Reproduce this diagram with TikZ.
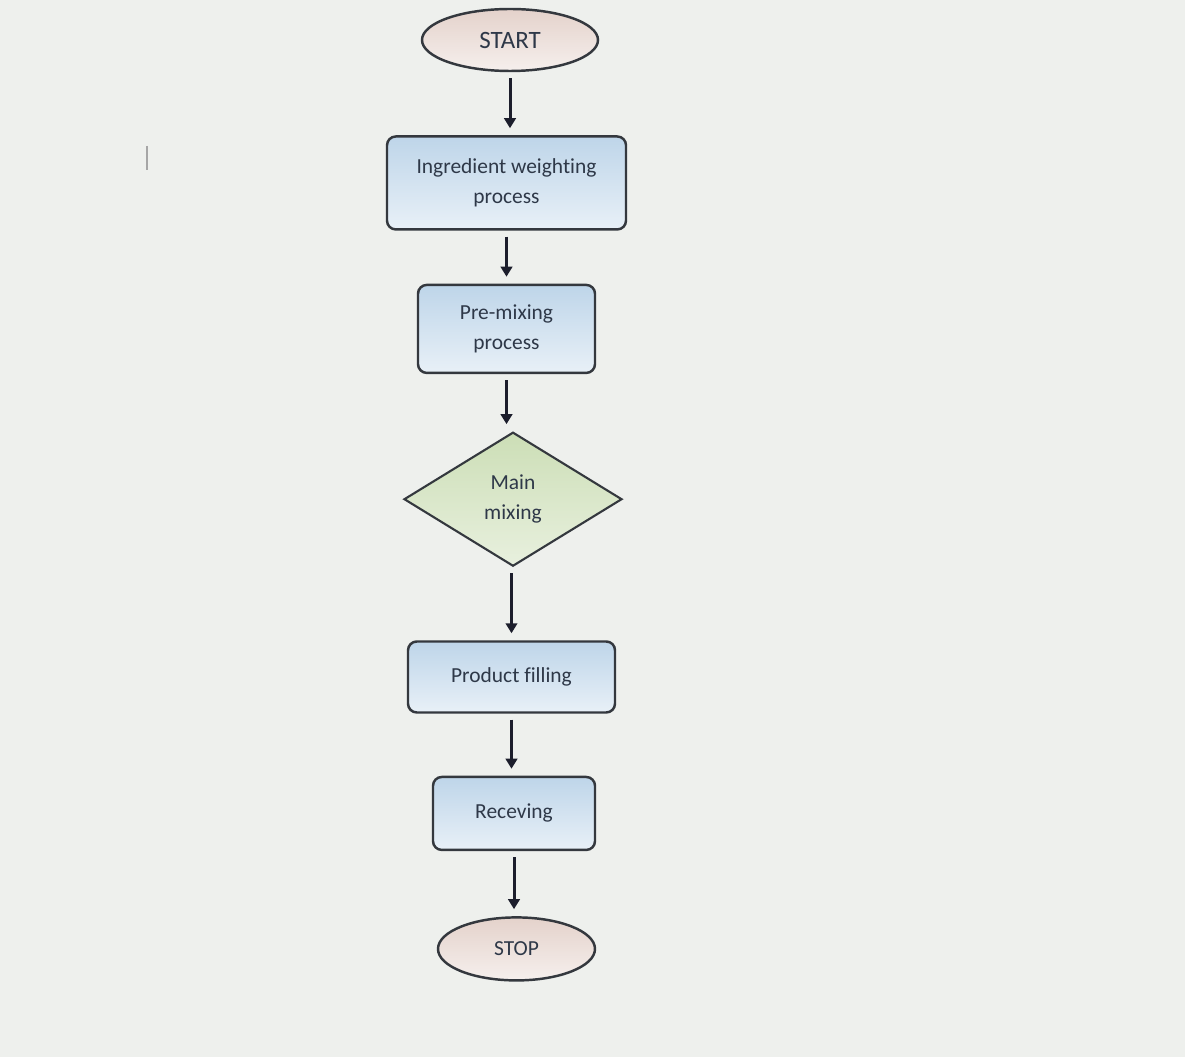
\documentclass[tikz,border=0pt]{standalone}
\usepackage{fontspec}
\setmainfont{Carlito}[Ligatures=CommonOff]
\usepackage{xcolor}
\usetikzlibrary{positioning,arrows.meta,shapes.geometric}
\definecolor{paper}{RGB}{238,240,237}
\definecolor{edge}{RGB}{52,56,62}
\definecolor{ink}{RGB}{46,56,72}
\definecolor{boxblue}{RGB}{190,213,233}
\definecolor{pinkish}{RGB}{228,210,203}
\definecolor{leafgreen}{RGB}{204,222,182}
\definecolor{arrowc}{RGB}{28,30,44}
\tikzset{
  box/.style={draw=edge, line width=1.4pt, rounded corners=5pt, align=center,
              text=ink, font=\fontsize{12.2}{17}\selectfont, inner sep=0pt},
  bluebox/.style={box, top color=boxblue, bottom color=boxblue!35!white},
  termnode/.style={ellipse, draw=edge, line width=1.4pt, text=ink, inner sep=0pt,
              top color=pinkish, bottom color=pinkish!35!white,
              font=\fontsize{12.2}{17}\selectfont},
  choicebox/.style={diamond, draw=edge, line width=1.2pt, align=center, text=ink,
              top color=leafgreen, bottom color=leafgreen!45!white, inner sep=0pt,
              font=\fontsize{12.2}{17}\selectfont},
  arrow/.style={-{Triangle[length=2mm,width=2.3mm]}, line width=1.7pt, arrowc,
              shorten <=0.12cm, shorten >=0.14cm},
}
\begin{document}
\begin{tikzpicture}
  \useasboundingbox[fill=paper] (0,0) rectangle (23.7,-21.14);
  % stray cursor mark on the screen
  \draw[gray!70, line width=0.9pt] (2.94,-2.92) -- (2.94,-3.40);
  % nodes
  \node[termnode, minimum width=3.52cm, minimum height=1.24cm,
        font=\fontsize{14.2}{17}\selectfont] (start) at (10.2,-0.8) {START};
  \node[bluebox, minimum width=4.78cm, minimum height=1.86cm,
        below=1.26cm of start, xshift=-0.07cm] (weigh) {Ingredient weighting\\process};
  \node[bluebox, minimum width=3.54cm, minimum height=1.76cm,
        below=1.06cm of weigh] (premix) {Pre-mixing\\process};
  \node[choicebox, minimum width=4.36cm, minimum height=2.68cm,
        below=1.14cm of premix, xshift=0.13cm] (mainmix) {Main\\mixing};
  \node[bluebox, minimum width=4.14cm, minimum height=1.42cm,
        below=1.46cm of mainmix, xshift=-0.03cm] (fill) {Product filling};
  \node[bluebox, minimum width=3.24cm, minimum height=1.46cm,
        below=1.24cm of fill, xshift=0.05cm] (recv) {Receving};
  \node[termnode, minimum width=3.14cm, minimum height=1.26cm,
        below=1.30cm of recv, xshift=0.05cm] (stop) {STOP};
  % connectors
  \draw[arrow] (start.south) -- (start.south |- weigh.north);
  \draw[arrow] (premix.north |- weigh.south) -- (premix.north);
  \draw[arrow] (premix.south) -- (premix.south |- mainmix.north);
  \draw[arrow] (fill.north |- mainmix.south) -- (fill.north);
  \draw[arrow] (fill.south) -- (fill.south |- recv.north);
  \draw[arrow] (recv.south) -- (recv.south |- stop.north);
\end{tikzpicture}
\end{document}
